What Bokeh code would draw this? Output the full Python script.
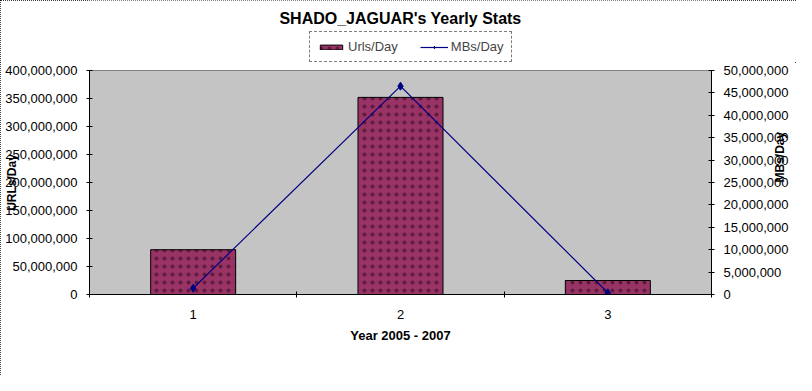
import math
from bokeh.plotting import figure
from bokeh.layouts import column
from bokeh.models import (Range1d, LinearAxis, FixedTicker, SingleIntervalTicker,
                          NumeralTickFormatter, Legend, LegendItem, Label)
from bokeh.embed import file_html
from bokeh.resources import INLINE

# ---- data ----
years = [1, 2, 3]
year_boundaries = [0.5, 1.5, 2.5, 3.5]
urls_per_day = [80_000_000, 352_000_000, 25_000_000]
mbs_per_day = [1_400_000, 46_500_000, 380_000]
urls_axis_max = 400_000_000
urls_tick_step = 50_000_000
mbs_axis_max = 50_000_000
mbs_tick_step = 5_000_000
title_text = "SHADO_JAGUAR's Yearly Stats"
series_names = ["Urls/Day", "MBs/Day"]

FONT = "Liberation Sans"
W = 796
HEAD_H = 62
MAIN_H = 313

BAR_STYLE = dict(fill_color="#993366", line_color="#000000", line_width=1,
                 hatch_pattern="dot", hatch_scale=8, hatch_color="#2a0a18",
                 hatch_weight=0.7, hatch_alpha=0.55)
LINE_STYLE = dict(line_color="#000080", line_width=1.2)
PT_STYLE = dict(marker="diamond", size=8, fill_color="#000080", line_color="#000080")

# ---------------- header: title + legend ----------------
head = figure(width=W, height=HEAD_H, output_backend="svg", toolbar_location=None,
              x_range=Range1d(0, 1), y_range=Range1d(0, HEAD_H),
              title_location=None, min_border=0,
              x_axis_type=None, y_axis_type=None)
head.xgrid.visible = False
head.ygrid.visible = False
head.outline_line_color = None
head.background_fill_color = "#ffffff"
head.border_fill_color = "#ffffff"

head.add_layout(Label(x=0.5, y=HEAD_H - 18, text=title_text,
                      text_align="center", text_baseline="middle",
                      text_font=FONT, text_font_size="16px",
                      text_font_style="bold", text_color="#000000"))

# hidden twins of the series, used only to draw the legend swatches
lg_bar = head.vbar(x=years, top=urls_per_day, width=0.41, visible=False, **BAR_STYLE)
lg_line = head.line(x=years, y=mbs_per_day, visible=False, **LINE_STYLE)
lg_pts = head.scatter(x=years, y=mbs_per_day, visible=False, **PT_STYLE)

legend = Legend(items=[LegendItem(label=series_names[0], renderers=[lg_bar]),
                       LegendItem(label=series_names[1], renderers=[lg_line, lg_pts])],
                orientation="horizontal", location=(220, 0),
                label_text_font=FONT, label_text_font_size="13px",
                label_height=15, label_standoff=3,
                glyph_width=28, glyph_height=6, spacing=22, padding=7,
                margin=0,
                border_line_color="#000000", border_line_dash="1 1",
                background_fill_color="#ffffff", background_fill_alpha=1)
head.add_layout(legend)

# ---------------- main chart ----------------
p = figure(width=W, height=MAIN_H, output_backend="svg", toolbar_location=None,
           x_range=Range1d(0.5, 3.5), y_range=Range1d(0, urls_axis_max),
           title_location=None,
           min_border_left=89, min_border_right=78, min_border_top=8,
           min_border_bottom=81)
p.extra_y_ranges = {"mb": Range1d(0, mbs_axis_max)}

p.background_fill_color = "#c4c4c4"
p.border_fill_color = "#ffffff"
p.outline_line_color = "#808080"
p.xgrid.visible = False
p.ygrid.visible = False

bars = p.vbar(x=years, top=urls_per_day, width=0.41, **BAR_STYLE)
line = p.line(years, mbs_per_day, y_range_name="mb", **LINE_STYLE)
pts = p.scatter(years, mbs_per_day, y_range_name="mb", **PT_STYLE)

def style_axis(ax):
    ax.major_label_text_font = FONT
    ax.major_label_text_font_size = "13px"
    ax.major_label_text_color = "#000000"
    ax.axis_label_text_font = FONT
    ax.axis_label_text_font_size = "12px"
    ax.axis_label_text_font_style = "bold"
    ax.axis_label_text_color = "#000000"
    ax.axis_line_color = "#000000"
    ax.major_tick_line_color = "#000000"
    ax.minor_tick_line_color = "#000000"

# x axis
xa = p.xaxis[0]
xa.ticker = FixedTicker(ticks=years, minor_ticks=year_boundaries)
xa.major_tick_in = 0
xa.major_tick_out = 0
xa.minor_tick_in = 3
xa.minor_tick_out = 3
xa.major_label_standoff = 12
xa.axis_label = "Year 2005 - 2007"
xa.axis_label_standoff = 6
style_axis(xa)
xa.axis_label_text_font_size = "13px"

# left axis
ya = p.yaxis[0]
ya.ticker = SingleIntervalTicker(interval=urls_tick_step, num_minor_ticks=0)
ya.formatter = NumeralTickFormatter(format="0,0")
ya.major_tick_in = 3
ya.major_tick_out = 3
ya.minor_tick_in = 0
ya.minor_tick_out = 0
ya.major_label_standoff = 9
ya.axis_label = "URLs/Day"
ya.axis_label_standoff = -17
style_axis(ya)

# right axis
ra = LinearAxis(y_range_name="mb",
                ticker=SingleIntervalTicker(interval=mbs_tick_step, num_minor_ticks=0),
                formatter=NumeralTickFormatter(format="0,0"))
ra.major_tick_in = 3
ra.major_tick_out = 3
ra.minor_tick_in = 0
ra.minor_tick_out = 0
ra.major_label_standoff = 9
ra.axis_label = "MBs/Day"
ra.axis_label_standoff = -12
ra.axis_label_orientation = math.pi / 2
style_axis(ra)
p.add_layout(ra, "right")

layout = column(head, p, spacing=0,
                styles={"outline": "1px dotted #000000", "outline-offset": "-1px"})

open("out.html", "w").write(file_html(layout, INLINE))
